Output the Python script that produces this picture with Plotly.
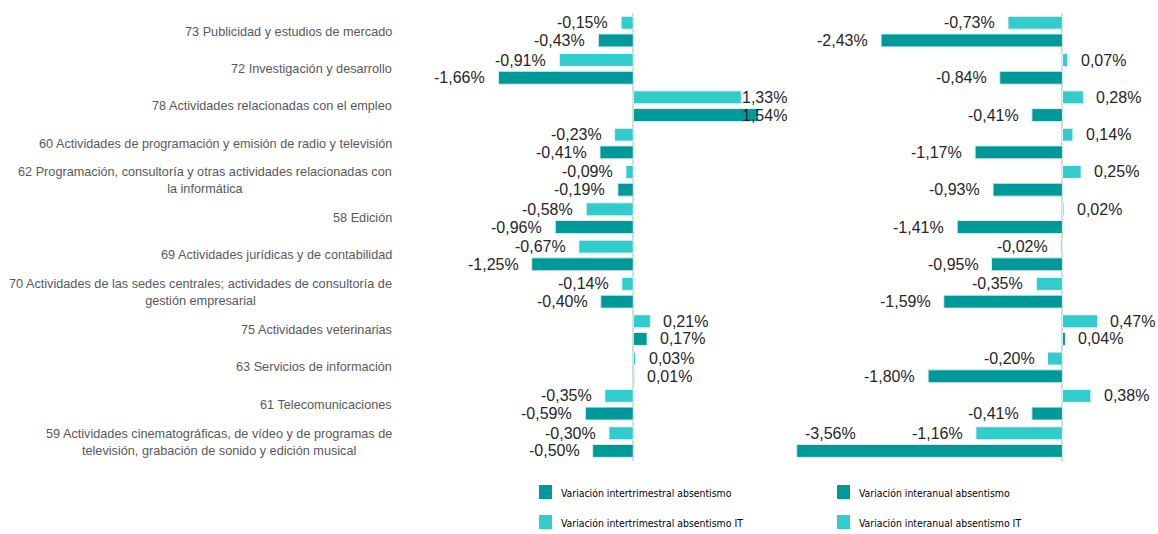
import plotly.graph_objects as go

categories = [
    "73 Publicidad y estudios de mercado",
    "72 Investigación y desarrollo",
    "78 Actividades relacionadas con el empleo",
    "60 Actividades de programación y emisión de radio y televisión",
    "62 Programación, consultoría y otras actividades relacionadas con<br>la informática",
    "58 Edición",
    "69 Actividades jurídicas y de contabilidad",
    "70 Actividades de las sedes centrales; actividades de consultoría de<br>gestión empresarial",
    "75 Actividades veterinarias",
    "63 Servicios de información",
    "61 Telecomunicaciones",
    "59 Actividades cinematográficas, de vídeo y de programas de<br>televisión, grabación de sonido y edición musical",
]
cat_ids = ["c" + c.split(" ")[0] for c in categories]

# left panel: variación intertrimestral
inter_trim_it = [-0.15, -0.91, 1.33, -0.23, -0.09, -0.58, -0.67, -0.14, 0.21, 0.03, -0.35, -0.30]
inter_trim_abs = [-0.43, -1.66, 1.54, -0.41, -0.19, -0.96, -1.25, -0.40, 0.17, 0.01, -0.59, -0.50]
# right panel: variación interanual
inter_anual_it = [-0.73, 0.07, 0.28, 0.14, 0.25, 0.02, -0.02, -0.35, 0.47, -0.20, 0.38, -1.16]
inter_anual_abs = [-2.43, -0.84, -0.41, -1.17, -0.93, -1.41, -0.95, -1.59, 0.04, -1.80, -0.41, -3.56]

names = [
    "Variación intertrimestral absentismo",
    "Variación intertrimestral absentismo IT",
    "Variación interanual absentismo",
    "Variación interanual absentismo IT",
]

DARK = "#009999"
LIGHT = "#33CCCC"

W, H = 1158, 534

# pixel geometry
y_top_px, y_bot_px = 12.9, 460.7
left_dom_px = (420, 790)
left_range = (-2.625, 1.929)
right_dom_px = (790, 1158)
right_range = (-3.65, 1.28)

cat_px = (y_bot_px - y_top_px) / len(categories)
bargap = 0.05
bar_offset = cat_px * (1 - bargap) / 4  # distance of each bar centre from category centre

fig = go.Figure()

def add_panel(it_vals, abs_vals, xa, it_name, abs_name):
    fig.add_trace(go.Bar(y=cat_ids, x=it_vals, orientation="h", name=it_name,
                         marker=dict(color=LIGHT, line=dict(color="#e6f7f7", width=1)),
                         xaxis=xa, yaxis="y", showlegend=False, hoverinfo="x+name"))
    fig.add_trace(go.Bar(y=cat_ids, x=abs_vals, orientation="h", name=abs_name,
                         marker=dict(color=DARK, line=dict(color="#d9eeee", width=1)),
                         xaxis=xa, yaxis="y", showlegend=False, hoverinfo="x+name"))

add_panel(inter_trim_it, inter_trim_abs, "x", names[1], names[0])
add_panel(inter_anual_it, inter_anual_abs, "x2", names[3], names[2])

def fmt(v):
    return f"{v:.2f}".replace(".", ",") + "%"

label_font = dict(family="Liberation Sans", size=16, color="#262626")
TEXT_W = 52  # approx. label width in px

def add_labels(vals, xref, rng, dom_px, shift):
    scale = (dom_px[1] - dom_px[0]) / (rng[1] - rng[0])
    zero_px = dom_px[0] + (0 - rng[0]) * scale
    for cid, v in zip(cat_ids, vals):
        bar_end = zero_px + v * scale
        if v >= 0:
            if bar_end + 11 + TEXT_W > dom_px[1]:
                fig.add_annotation(x=rng[1], y=cid, xref=xref, yref="y", text=fmt(v),
                                   showarrow=False, xanchor="right", yshift=shift, xshift=-1,
                                   font=label_font)
            else:
                fig.add_annotation(x=v, y=cid, xref=xref, yref="y", text=fmt(v),
                                   showarrow=False, xanchor="left", xshift=11, yshift=shift,
                                   font=label_font)
        else:
            if bar_end - 13 - TEXT_W < dom_px[0]:
                # no room on the left: label sits above the bar end
                fig.add_annotation(x=v, y=cid, xref=xref, yref="y", text=fmt(v),
                                   showarrow=False, xanchor="left", xshift=6,
                                   yshift=shift + 2 * bar_offset, font=label_font)
            else:
                fig.add_annotation(x=v, y=cid, xref=xref, yref="y", text=fmt(v),
                                   showarrow=False, xanchor="right", xshift=-11, yshift=shift,
                                   font=label_font)

add_labels(inter_trim_it, "x", left_range, left_dom_px, bar_offset)
add_labels(inter_trim_abs, "x", left_range, left_dom_px, -bar_offset)
add_labels(inter_anual_it, "x2", right_range, right_dom_px, bar_offset)
add_labels(inter_anual_abs, "x2", right_range, right_dom_px, -bar_offset)

# category labels
for cid, cat in zip(cat_ids, categories):
    fig.add_annotation(x=394 / W, y=cid, xref="paper", yref="y", text=cat,
                       showarrow=False, xanchor="right", align="center",
                       font=dict(family="Liberation Sans", size=12.7, color="#595959"))

# manual legend
legend_items = [
    (539, 492, DARK, names[0]),
    (539, 522, LIGHT, names[1]),
    (837, 492, DARK, names[2]),
    (837, 522, LIGHT, names[3]),
]
for lx, ly, col, nm in legend_items:
    fig.add_shape(type="rect", xref="paper", yref="paper",
                  x0=lx / W, x1=(lx + 13) / W, y0=1 - (ly + 7) / H, y1=1 - (ly - 7) / H,
                  fillcolor=col, line=dict(width=0))
    fig.add_annotation(x=(lx + 20) / W, y=1 - (ly + 1) / H, xref="paper", yref="paper",
                       text=nm, showarrow=False, xanchor="left", yanchor="middle",
                       font=dict(family="DejaVu Sans Condensed, Liberation Sans", size=10.4,
                                 color="#000000"))

axis_common = dict(showgrid=False, showticklabels=False, ticks="", zeroline=True,
                   zerolinecolor="#d9d9d9", zerolinewidth=2, showline=False, fixedrange=True)

fig.update_layout(
    width=W, height=H,
    margin=dict(l=0, r=0, t=0, b=0),
    paper_bgcolor="white", plot_bgcolor="white",
    barmode="group", bargap=bargap, bargroupgap=0.27,
    xaxis=dict(domain=[left_dom_px[0] / W, left_dom_px[1] / W], range=list(left_range), **axis_common),
    xaxis2=dict(domain=[right_dom_px[0] / W, right_dom_px[1] / W], range=list(right_range), **axis_common),
    yaxis=dict(type="category", categoryorder="array", categoryarray=cat_ids,
               domain=[1 - y_bot_px / H, 1 - y_top_px / H],
               range=[len(cat_ids) - 0.5, -0.5], autorange=False,
               showticklabels=False, showgrid=False, zeroline=False, ticks="", fixedrange=True),
    showlegend=False,
)

# remove the default 8px page margin so the figure fills the window exactly
fig.write_html("out.html",
               config={"displayModeBar": False},
               post_script="document.body.style.margin='0';document.body.style.overflow='hidden';")
